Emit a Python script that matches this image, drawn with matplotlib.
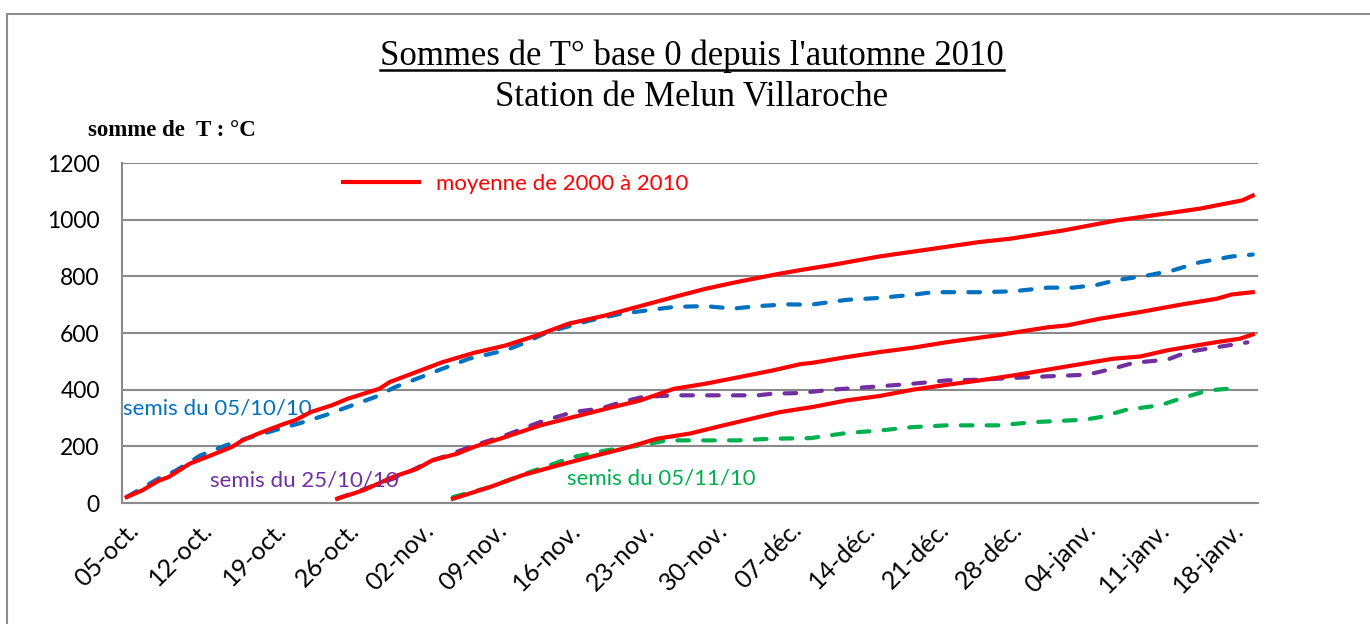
import matplotlib.pyplot as plt
from matplotlib.lines import Line2D

# days counted from 05-oct. 2010
moy_0510_days = [0, 1.5, 3, 4, 6, 8, 10, 11, 12.5, 15, 16, 17.5, 19.5, 21, 24, 25, 27, 30, 33, 36,
                 39, 42, 45.5, 49, 52, 55, 58, 62, 64, 67, 71.5, 76, 81, 84, 89, 94, 99, 102, 103.5,
                 106, 107]
moy_0510_vals = [21, 45, 78, 92, 139, 168, 198, 221, 245, 280, 292, 321, 345, 368, 403, 427, 455,
                 497, 530, 556, 592, 633, 662, 697, 727, 756, 780, 809, 822, 840, 870, 894, 921,
                 933, 962, 997, 1023, 1039, 1050, 1068, 1085]

semis_0510_days = [0, 3, 4.7, 7, 9.4, 11.3, 14, 16.3, 18.8, 21, 23.6, 25.5, 28, 30, 32.5, 36, 37.6,
                   40, 44, 47, 52, 55, 57.6, 60, 62.7, 65, 68.4, 71.6, 74.7, 76.6, 81, 84.2, 87.5,
                   89.9, 92.2, 94, 97, 99.4, 102, 105, 107]
semis_0510_vals = [21, 86, 115, 168, 203, 227, 256, 280, 309, 339, 374, 409, 445, 474, 509, 539,
                   562, 603, 644, 668, 692, 695, 686, 695, 701, 700, 717, 724, 735, 744, 744, 747,
                   760, 760, 770, 786, 803, 821, 850, 870, 877]

moy_2510_days = [20, 22.5, 25.3, 27.6, 29, 31.4, 33, 36, 39.3, 42.4, 45.6, 48.8, 52, 55, 58.3, 61.4,
                 64, 65.2, 68.4, 71.6, 74.7, 78, 82.7, 87.5, 89.4, 92.4, 96.3, 100.3, 103.6, 105, 107]
moy_2510_vals = [15, 45, 92, 121, 150, 174, 198, 233, 274, 303, 333, 362, 403, 421, 445, 468,
                 490, 495, 515, 533, 548, 568, 592, 620, 627, 650, 674, 701, 721, 736, 744]

semis_2510_days = [20, 23, 26, 29, 30, 33, 36, 39.3, 42.4, 45, 47, 49, 52, 57, 60, 61.4, 64, 67,
                   71.6, 74.7, 78, 81, 84, 87.5, 91.3, 93.7, 95.7, 98.9, 100.8, 103.6, 106.5]
semis_2510_vals = [15, 55, 95, 150, 162, 203, 239, 286, 321, 333, 356, 374, 380, 380, 380, 386,
                   388, 400, 412, 421, 433, 435, 441, 447, 453, 474, 495, 506, 533, 550, 567]

moy_0511_days = [31, 34.5, 37.6, 41, 44, 47.2, 50.4, 53.5, 56.7, 60, 62.1, 65.2, 68.4, 71.6, 74.7,
                 77.9, 81.1, 84.2, 89, 93.7, 96.3, 98.9, 103.6, 105.8, 107]
moy_0511_vals = [15, 56, 98, 133, 162, 192, 227, 245, 274, 303, 321, 339, 362, 378, 400, 417, 433,
                 450, 480, 509, 517, 539, 568, 580, 595]

semis_0511_days = [31, 34.5, 38.3, 42.4, 45.6, 48.8, 51.3, 58, 61.4, 65, 68.4, 71.6, 74.7, 77.9,
                   82.7, 86.5, 91, 92.5, 95, 98.2, 100.1, 102.7, 105.8]
semis_0511_vals = [21, 56, 109, 162, 186, 203, 221, 221, 227, 229, 247, 256, 268, 274, 274, 286,
                   294, 303, 329, 345, 368, 397, 407]

tick_days = list(range(0, 106, 7))
tick_labels = ['05-oct.', '12-oct.', '19-oct.', '26-oct.', '02-nov.', '09-nov.', '16-nov.',
               '23-nov.', '30-nov.', '07-déc.', '14-déc.', '21-déc.', '28-déc.', '04-janv.',
               '11-janv.', '18-janv.']

RED = '#FF0000'
BLUE = '#0070C0'
PURPLE = '#7030A0'
GREEN = '#00B050'
GRID = '#8a8a8a'

W, H = 1370, 624
fig = plt.figure(figsize=(W / 100, H / 100), dpi=100)
ax = fig.add_axes([122 / W, 1 - 503 / H, (1258 - 122) / W, (503 - 163) / H])

dash = (2.8, 3.4)
lw = 3.0
for d, v, c in [(semis_0510_days, semis_0510_vals, BLUE),
                (semis_2510_days, semis_2510_vals, PURPLE),
                (semis_0511_days, semis_0511_vals, GREEN)]:
    ax.plot(d, v, color=c, lw=lw, dashes=dash, dash_capstyle='round', zorder=3)
ax.plot(moy_0510_days, moy_0510_vals, color=RED, lw=lw, zorder=4, label='moyenne de 2000 à 2010')
ax.plot(moy_2510_days, moy_2510_vals, color=RED, lw=lw, zorder=4)
ax.plot(moy_0511_days, moy_0511_vals, color=RED, lw=lw, zorder=4)

ax.set_xlim(-0.45, 107.5)
ax.set_ylim(0, 1200)
ax.set_yticks(range(0, 1201, 200))
ax.yaxis.grid(True, color=GRID, lw=1.5)
ax.set_axisbelow(True)
for s in ['top', 'right']:
    ax.spines[s].set_visible(False)
for s in ['left', 'bottom']:
    ax.spines[s].set_color(GRID)
    ax.spines[s].set_linewidth(1.5)

ax.set_xticks(tick_days)
ax.set_xticklabels(tick_labels, rotation=45, ha='right', va='top', rotation_mode='anchor',
                   fontsize=18, family='Lato')
for lab in ax.get_yticklabels():
    lab.set_family('Lato')
    lab.set_fontsize(16.5)
ax.tick_params(axis='y', length=0, pad=16)
ax.tick_params(axis='x', length=0, pad=11)

ax.text(-0.4, 335, 'semis du 05/10/10', color=BLUE, fontsize=16, family='Lato', va='center')
ax.text(7.9, 81, 'semis du 25/10/10', color=PURPLE, fontsize=16, family='Lato', va='center',
        zorder=5)
ax.text(41.8, 85, 'semis du 05/11/10', color=GREEN, fontsize=16, family='Lato', va='center')

leg = ax.legend(loc='center left', bbox_to_anchor=(343 / W, 1 - 184 / H),
                bbox_transform=fig.transFigure, frameon=False,
                prop={'family': 'Lato', 'size': 16}, handlelength=3.4, handletextpad=0.8,
                borderpad=0, borderaxespad=0, labelcolor=RED)

# titles
t1 = fig.text(692 / W, 1 - 56 / H, "Sommes de T° base 0 depuis l'automne 2010",
              family='Liberation Serif', fontsize=25, ha='center', va='center')
fig.text(692 / W, 1 - 97 / H, 'Station de Melun Villaroche',
         family='Liberation Serif', fontsize=25, ha='center', va='center')
fig.text(88 / W, 1 - 130 / H, 'somme de  T : °C', family='Liberation Serif',
         fontweight='bold', fontsize=16.5, ha='left', va='center')

# figure frame (left and top only visible)
fig.add_artist(Line2D([7 / W, 7 / W, 1.01], [-0.01, 1 - 14 / H, 1 - 14 / H],
                      transform=fig.transFigure, color='#8c8c8c', lw=1.5))

# underline the first title line
fig.canvas.draw()
bb = t1.get_window_extent().transformed(fig.transFigure.inverted())
fig.add_artist(Line2D([bb.x0, bb.x1], [bb.y0 + 0.004, bb.y0 + 0.004],
                      transform=fig.transFigure, color='black', lw=1.8))

fig.savefig('out.png', dpi=100)
